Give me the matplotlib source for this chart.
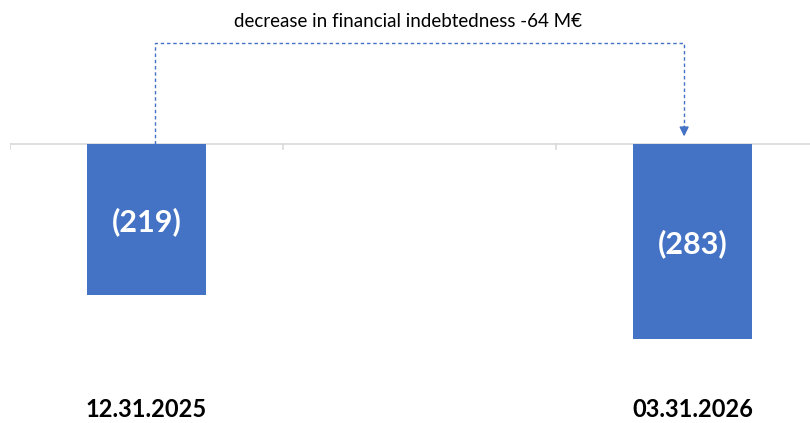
import matplotlib.pyplot as plt

plt.rcParams['font.family'] = ['Lato', 'DejaVu Sans']

categories = ['12.31.2025', '', '03.31.2026']
values = [-219, None, -283]
bar_labels = ['(219)', '', '(283)']
note = 'decrease in financial indebtedness -64 M€'

blue = '#4472C4'

fig = plt.figure(figsize=(8.1, 4.23), dpi=100)
ax = fig.add_axes([10 / 810, 0, 800 / 810, 1])
ax.set_xlim(-0.5, 2.43)
ax.set_ylim(-405, 209)

for i, v in enumerate(values):
    if v is None:
        continue
    ax.bar(i, v, width=0.436, color=blue, zorder=2)
    ax.text(i, v / 2 - 3, bar_labels[i], color='white', fontsize=22,
            fontweight='bold', ha='center', va='center', zorder=3)

# category labels at the bottom
for i, c in enumerate(categories):
    ax.text(i, -386, c, fontsize=17, fontweight='bold', color='black',
            ha='center', va='center')

# axis line with tick marks at the category boundaries
ax.axhline(0, color='#D9D9D9', lw=1.2, zorder=1)
for b in [-0.5, 0.5, 1.5]:
    ax.plot([b, b], [0, -8], color='#D9D9D9', lw=1.2, zorder=1)

# dashed connector between the two bars
x0, x1 = 0.031, 2 - 0.031
top = 146
ax.plot([x0, x0, x1, x1], [0, top, top, 14], color=blue, lw=1,
        ls=(0, (2.5, 2)), zorder=2)
ax.annotate('', xy=(x1, 11), xytext=(x1, 26),
            arrowprops=dict(arrowstyle='-|>', color=blue, lw=1,
                            mutation_scale=14, shrinkA=0, shrinkB=0))
ax.text(0.958, 178, note, fontsize=13.5, color='black', ha='center', va='center')

ax.axis('off')
fig.savefig('out.png', dpi=100)
